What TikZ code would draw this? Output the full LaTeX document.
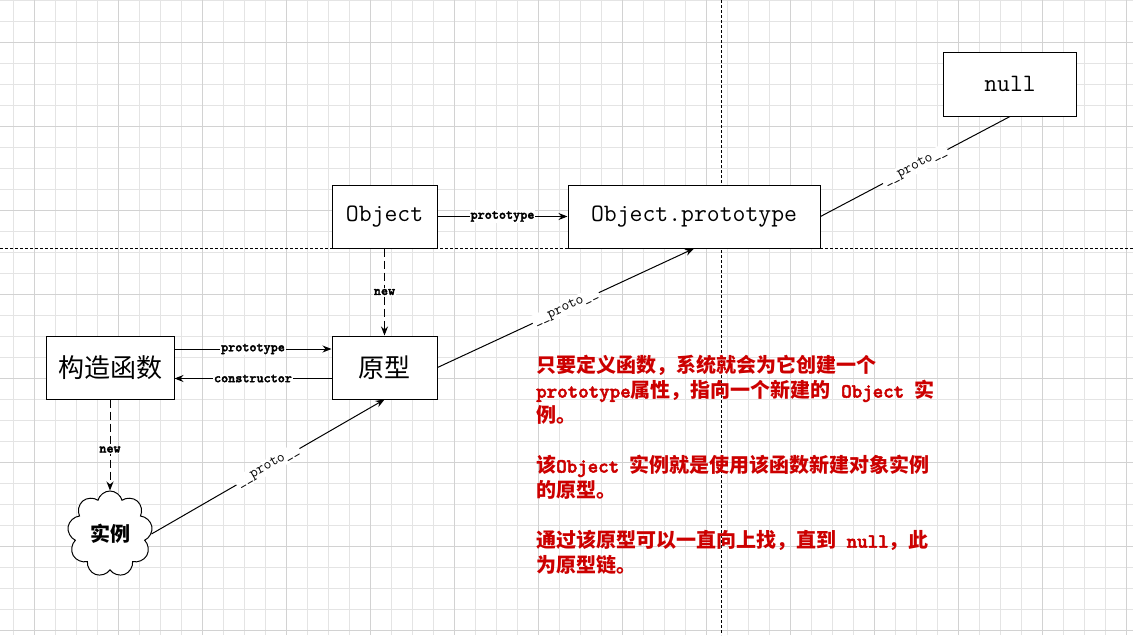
\documentclass[tikz,border=0pt]{standalone}
\usepackage{fontspec}
\newfontfamily\cjk{Noto Sans CJK SC}
\newfontfamily\boldmono{lmmonolt10-bold.otf}[FakeBold=2.5]
\usetikzlibrary{arrows.meta,shapes.symbols}
\definecolor{notered}{HTML}{CC0000}
\definecolor{gridminor}{HTML}{E4E4E4}
\definecolor{gridmajor}{HTML}{D2D2D2}
\newcommand{\codeword}[1]{{\boldmono\fontsize{20}{25}\selectfont #1}}
\tikzset{
	box/.style={draw,line width=1pt,fill=white,inner sep=0pt},
	link/.style={line width=1pt,-{Stealth[length=9pt,width=7pt]}},
	newlink/.style={link,dash pattern=on 8pt off 4pt},
	lbl/.style={fill=white,inner sep=1pt,font=\boldmono\fontsize{13.5}{13.5}\selectfont},
	protolbl/.style={fill=white,inner sep=1.5pt,sloped,font=\ttfamily\fontsize{15}{15}\selectfont},
	axisline/.style={line width=1pt,dash pattern=on 3pt off 2pt},
}
\begin{document}
\begin{tikzpicture}[x=1pt,y=-1pt]
	\fill[white] (0,0) rectangle (1133,635);
	\useasboundingbox (0,0) rectangle (1133,635);
	\foreach \gx in {0,...,53} \draw[gridminor,line width=.8pt] ({13.3+21*\gx},0) -- ++(0,635);
	\foreach \gy in {0,...,30} \draw[gridminor,line width=.8pt] (0,{21*\gy}) -- ++(1133,0);
	\foreach \gx in {0,...,13} \draw[gridmajor,line width=.8pt] ({34.3+84*\gx},0) -- ++(0,635);
	\foreach \gy in {0,...,7} \draw[gridmajor,line width=.8pt] (0,{42+84*\gy}) -- ++(1133,0);
	\draw[axisline] (0,248) -- (1133,248) (721,0) -- (721,635);
	\node[box,minimum width=105,minimum height=63,font=\ttfamily\fontsize{25}{25}\selectfont] (obj) at (384.5,216.5){Object};
	\node[box,minimum width=252,minimum height=63,font=\ttfamily\fontsize{25}{25}\selectfont] (objproto) at (694,216.5){Object.prototype};
	\node[box,minimum width=133,minimum height=64,font=\ttfamily\fontsize{25}{25}\selectfont] (nul) at (1010,84){null};
	\node[box,minimum width=128,minimum height=63,font=\cjk\fontsize{26}{26}\selectfont] (ctor) at (110,367.5){构造函数};
	\node[box,minimum width=105,minimum height=63,font=\cjk\fontsize{26}{26}\selectfont] (proto) at (384.5,367.5){原型};
	\node[draw,line width=1pt,fill=white,cloud,cloud puffs=9,aspect=1,inner sep=0pt,minimum width=85,minimum height=86,font=\cjk\bfseries\fontsize{20}{20}\selectfont] (inst) at (110,534){实例};
	\draw[link] (obj) -- (objproto) node[lbl,midway]{prototype};
	\draw[newlink] (obj) -- (proto) node[lbl,midway]{new};
	\draw[link] ([yshift=18.5pt]ctor.east) -- ([yshift=18.5pt]proto.west) node[lbl,midway]{prototype};
	\draw[link] ([yshift=-11pt]proto.west) -- ([yshift=-11pt]ctor.east) node[lbl,midway]{constructor};
	\draw[newlink] (ctor) -- (inst) node[lbl,pos=.55]{new};
	\draw[link] (inst.east) -- (proto.south) node[protolbl,midway]{\_\_proto\_\_};
	\draw[link] (proto.east) -- (objproto.south) node[protolbl,midway]{\_\_proto\_\_};
	\draw[line width=1pt] (objproto.east) -- (nul.south) node[protolbl,midway]{\_\_proto\_\_};
	\node[anchor=north west,inner sep=0pt,align=left,text=notered,font=\cjk\bfseries\fontsize{20}{25}\selectfont] (note) at (536,355){只要定义函数，系统就会为它创建一个\\\codeword{prototype}属性，指向一个新建的\codeword{ Object }实\\例。\\[25pt]该\codeword{Object }实例就是使用该函数新建对象实例\\的原型。\\[25pt]通过该原型可以一直向上找，直到\codeword{ null}，此\\为原型链。};
\end{tikzpicture}
\end{document}
